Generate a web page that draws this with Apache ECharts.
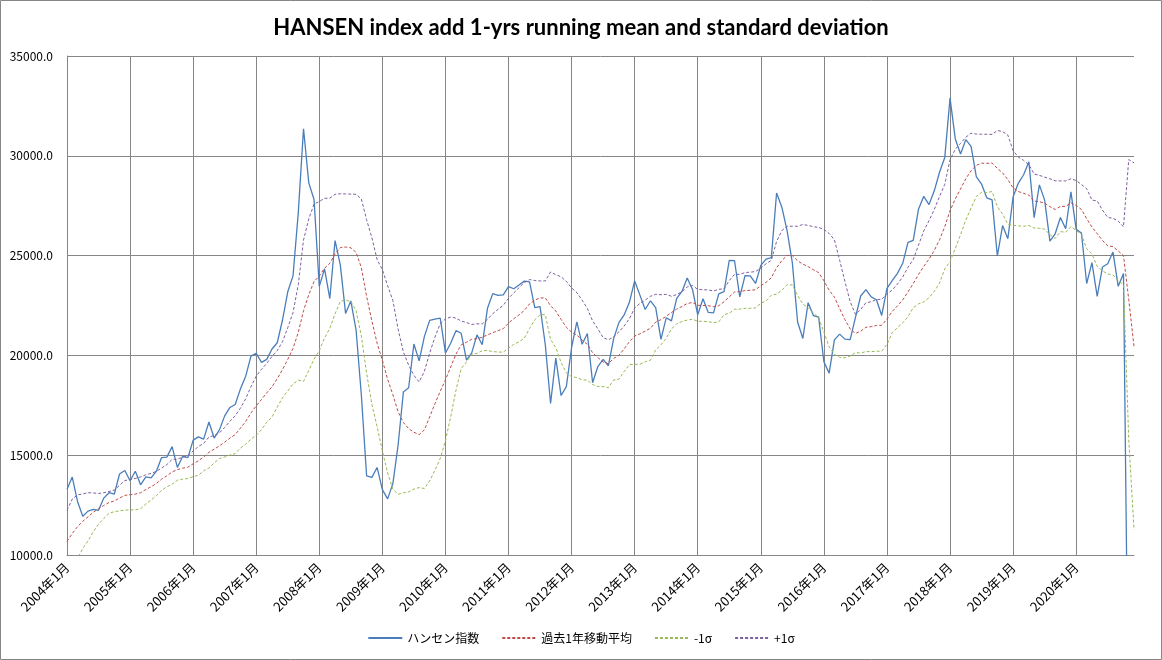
<!DOCTYPE html>
<html><head><meta charset="utf-8">
<script src="https://cdn.jsdelivr.net/npm/echarts@6/dist/echarts.min.js"></script>
<style>html,body{margin:0;padding:0;background:#fff}#c{width:1162px;height:660px}</style>
</head><body><div id="c"></div><script>
const years = [2004,2005,2006,2007,2008,2009,2010,2011,2012,2013,2014,2015,2016,2017,2018,2019,2020];
const months = [1,2,3,4,5,6,7,8,9,10,11,12];
const yTicks = [10000, 15000, 20000, 25000, 30000, 35000];

const hsi = [
13289,13907,12682,11943,12198,12286,12238,12850,13120,13055,14060,14230,
13722,14195,13517,13909,13867,14201,14881,14904,15429,14386,14937,14876,
15753,15918,15805,16661,15858,16268,16971,17392,17543,18324,18960,19965,
20106,19652,19801,20319,20634,21773,23185,23984,27142,31353,28644,27813,
23456,24332,22849,25755,24533,22102,22731,21262,18016,13969,13888,14387,
13278,12812,13576,15521,18171,18379,20573,19724,20955,21753,21822,21873,
20122,20609,21239,21109,19765,20129,21030,20536,22358,23096,23008,23035,
23447,23338,23528,23721,23684,22398,22440,20535,17592,19865,17989,18434,
20390,21680,20556,21094,18630,19441,19797,19483,20840,21642,22030,22657,
23730,23020,22300,22737,22392,20803,21884,21731,22860,23206,23881,23306,
22035,22837,22151,22134,23082,23191,24757,24742,22933,23998,23987,23605,
24507,24823,24901,28133,27424,26250,24636,21671,20846,22640,21996,21914,
19683,19112,20777,21067,20815,20794,21891,22977,23297,22935,22790,22001,
23361,23741,24112,24615,25661,25765,27324,27970,27554,28246,29177,29919,
32887,30845,30093,30808,30469,28955,28583,27889,27789,24980,26507,25846,
27942,28633,29051,29699,26901,28543,27778,25725,26092,26907,26346,28190,
26313,26130,23603,24644,22961,24427,24595,25177,23459,24107,0,0
];
const mean1y = [
10680,11080,11420,11690,11910,12140,12320,12480,12630,12710,12850,12990,
13020,13050,13120,13280,13420,13580,13800,13970,14160,14280,14350,14400,
14570,14720,14910,15140,15300,15470,15650,15860,16030,16360,16690,17120,
17480,17790,18120,18430,18830,19290,19800,20350,21150,22240,23040,23700,
23980,24370,24620,25080,25400,25430,25390,25160,24400,22960,21730,20610,
19760,18800,18030,17170,16640,16330,16150,16030,16270,16920,17580,18200,
18770,19420,20060,20530,20660,20810,20840,20910,21030,21140,21240,21340,
21620,21840,22030,22250,22580,22770,22880,22880,22490,22220,21800,21410,
21160,21020,20770,20550,20130,19890,19670,19580,19850,20000,20330,20690,
20970,21080,21220,21360,21670,21790,21960,22150,22320,22450,22600,22650,
22510,22500,22490,22440,22490,22690,22930,23180,23190,23250,23260,23290,
23490,23660,23890,24390,24750,25010,25000,24740,24570,24450,24290,24150,
23740,23270,22920,22340,21790,21330,21100,21210,21410,21440,21500,21510,
21820,22200,22480,22780,23180,23600,24050,24460,24820,25260,25790,26450,
27250,27840,28340,28850,29250,29520,29630,29620,29640,29370,29140,28810,
28390,28210,28120,28030,27730,27700,27630,27450,27310,27470,27460,27650,
27510,27310,26850,26430,26100,25760,25490,25450,25230,25000,22800,20450
];
const minus1s = [
9120,9370,9830,10320,10710,11160,11550,11830,12090,12170,12210,12250,
12260,12260,12320,12550,12750,12970,13240,13420,13540,13750,13800,13830,
13930,13990,14220,14360,14610,14830,14910,15010,15080,15360,15560,15800,
16000,16280,16650,16910,17410,17880,18220,18570,18760,18700,19250,19810,
20240,20870,21360,22080,22710,22770,22700,22250,20970,19110,17550,16420,
15220,14110,13300,13040,13120,13160,13300,13380,13330,13710,14250,14830,
15720,16930,18250,19340,19670,20060,20100,20240,20250,20190,20170,20160,
20370,20550,20680,20860,21350,21780,22040,22040,20790,20390,19650,19120,
18930,18890,18780,18760,18540,18440,18440,18380,18770,18810,19190,19540,
19550,19560,19680,19760,20280,20530,20860,21330,21580,21700,21770,21810,
21710,21710,21690,21640,21680,22040,22110,22310,22320,22360,22360,22380,
22610,22730,23020,23070,23260,23540,23530,23000,22570,22390,22120,21890,
21170,20430,20050,19900,19880,19970,20140,20120,20190,20190,20210,20210,
20550,21140,21390,21630,21940,22390,22580,22680,22890,23210,23620,24340,
24700,25350,26050,26780,27380,27960,28170,28160,28210,27460,27080,26570,
26520,26490,26470,26510,26380,26370,26330,26050,25860,26200,26170,26450,
26260,26050,25350,25080,24460,24240,24080,24030,23730,23560,15790,11260
];
const plus1s = [
12240,12800,13010,13060,13120,13110,13080,13120,13180,13250,13490,13730,
13780,13840,13910,14020,14090,14190,14360,14530,14790,14800,14900,14970,
15210,15440,15590,15910,15990,16120,16390,16700,16980,17360,17830,18430,
18960,19300,19600,19950,20240,20690,21390,22140,23540,25780,26840,27580,
27710,27870,27880,28070,28100,28090,28080,28070,27840,26800,25900,24800,
24300,23490,22750,21310,20170,19510,19000,18670,19210,20120,20910,21580,
21830,21920,21870,21720,21650,21550,21580,21580,21810,22090,22310,22510,
22860,23130,23390,23650,23800,23750,23730,23730,24180,24040,23940,23710,
23380,23150,22770,22350,21730,21330,20890,20780,20930,21180,21470,21840,
22380,22600,22770,22960,23060,23040,23060,22960,23050,23190,23430,23500,
23310,23290,23280,23230,23310,23340,23750,24060,24060,24150,24170,24200,
24380,24590,24760,25710,26250,26470,26470,26470,26560,26510,26450,26410,
26310,26110,25790,24770,23700,22700,22060,22300,22640,22690,22800,22810,
23080,23270,23580,23930,24420,24800,25520,26240,26750,27310,27960,28570,
29800,30330,30620,30930,31130,31090,31080,31080,31070,31270,31210,31040,
30260,29930,29770,29550,29090,29020,28930,28850,28750,28740,28740,28850,
28760,28560,28350,27780,27740,27280,26910,26870,26730,26440,29810,29650
];

const categories = [];
years.forEach(y => months.forEach(m => categories.push(y + '年' + m + '月')));

const gridColor = '#868686';
const fontJP = '"Noto Sans CJK JP", "Noto Sans", sans-serif';
const chart = echarts.init(document.getElementById('c'), null, {renderer: 'canvas'});
chart.setOption({
  animation: false,
  backgroundColor: '#fff',
  title: {
    text: 'HANSEN index add 1-yrs running mean and standard deviation',
    left: 'center', top: 12,
    textStyle: {fontFamily: 'Lato, "Noto Sans", sans-serif', fontSize: 22, fontWeight: 'bold', color: '#000'}
  },
  graphic: [{
    type: 'rect', silent: true, z: -1,
    shape: {x: 0.5, y: 0.5, width: 1161, height: 659},
    style: {fill: 'none', stroke: gridColor, lineWidth: 1}
  }],
  legend: {
    bottom: 11, left: 'center', itemWidth: 34, itemHeight: 10, itemGap: 22,
    itemStyle: {opacity: 0},
    textStyle: {fontFamily: fontJP, fontSize: 12, color: '#000'},
    data: ['ハンセン指数', '過去1年移動平均', '-1σ', '+1σ']
  },
  grid: {left: 67, right: 28, top: 56, bottom: 105, containLabel: false},
  xAxis: {
    type: 'category', data: categories, boundaryGap: false,
    axisLine: {show: true, lineStyle: {color: gridColor, width: 1}},
    axisTick: {show: false},
    axisLabel: {interval: 11, rotate: 45, margin: 10, color: '#000', fontFamily: fontJP, fontSize: 13},
    splitLine: {show: true, interval: 11, lineStyle: {color: gridColor, width: 1}}
  },
  yAxis: {
    type: 'value', min: yTicks[0], max: yTicks[yTicks.length - 1], interval: 5000,
    axisLine: {show: true, lineStyle: {color: gridColor, width: 1}},
    axisTick: {show: false},
    axisLabel: {margin: 14, color: '#000', fontFamily: fontJP, fontSize: 12, formatter: v => v.toFixed(1)},
    splitLine: {show: true, lineStyle: {color: gridColor, width: 1}}
  },
  series: [
    {name: 'ハンセン指数', type: 'line', data: hsi, symbol: 'none', clip: true,
     lineStyle: {color: '#4A7EBB', width: 1.3}, itemStyle: {color: '#4A7EBB'}},
    {name: '過去1年移動平均', type: 'line', data: mean1y, symbol: 'none', clip: true,
     lineStyle: {color: '#BE4B48', width: 1, type: [3, 2]}, itemStyle: {color: '#BE4B48'}},
    {name: '-1σ', type: 'line', data: minus1s, symbol: 'none', clip: true,
     lineStyle: {color: '#98B954', width: 1, type: [3, 2]}, itemStyle: {color: '#98B954'}},
    {name: '+1σ', type: 'line', data: plus1s, symbol: 'none', clip: true,
     lineStyle: {color: '#7D60A0', width: 1, type: [3, 2]}, itemStyle: {color: '#7D60A0'}}
  ]
});
</script></body></html>
